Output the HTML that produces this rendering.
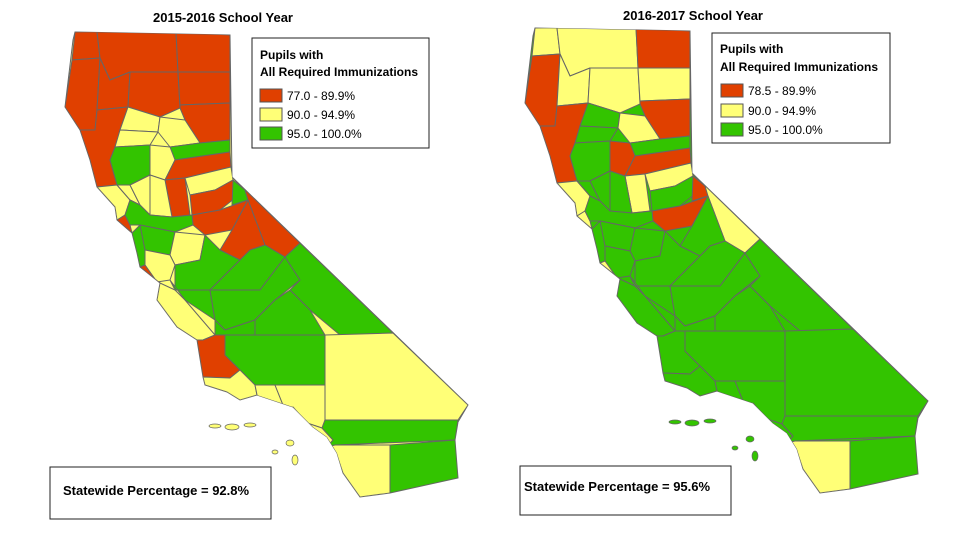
<!DOCTYPE html>
<html><head><meta charset="utf-8"><style>
body{margin:0;background:#fff;font-family:"Liberation Sans",sans-serif}
svg{display:block}
</style></head><body>
<svg id="chart" width="964" height="552" viewBox="0 0 964 552">
<rect width="964" height="552" fill="#fff"/>
<g id="maps"></g>
<text x="223" y="22" text-anchor="middle" font-size="13" font-weight="bold">2015-2016 School Year</text>
<text x="693" y="20" text-anchor="middle" font-size="13" font-weight="bold">2016-2017 School Year</text>
<g>
<rect x="252" y="38" width="177" height="110" fill="#fff" stroke="#222" stroke-width="1"/>
<text x="260" y="59" font-size="12" font-weight="bold">Pupils with</text>
<text x="260" y="76" font-size="12" font-weight="bold">All Required Immunizations</text>
<rect x="260" y="89" width="22" height="13" fill="#e04000" stroke="#555"/><text x="287" y="100" font-size="12">77.0 - 89.9%</text>
<rect x="260" y="108" width="22" height="13" fill="#ffff77" stroke="#555"/><text x="287" y="119" font-size="12">90.0 - 94.9%</text>
<rect x="260" y="127" width="22" height="13" fill="#33c400" stroke="#555"/><text x="287" y="138" font-size="12">95.0 - 100.0%</text>
</g>
<g>
<rect x="712" y="33" width="178" height="110" fill="#fff" stroke="#222" stroke-width="1"/>
<text x="720" y="53" font-size="12" font-weight="bold">Pupils with</text>
<text x="720" y="71" font-size="12" font-weight="bold">All Required Immunizations</text>
<rect x="721" y="84" width="22" height="13" fill="#e04000" stroke="#555"/><text x="748" y="95" font-size="12">78.5 - 89.9%</text>
<rect x="721" y="104" width="22" height="13" fill="#ffff77" stroke="#555"/><text x="748" y="115" font-size="12">90.0 - 94.9%</text>
<rect x="721" y="123" width="22" height="13" fill="#33c400" stroke="#555"/><text x="748" y="134" font-size="12">95.0 - 100.0%</text>
</g>
<g>
<rect x="50" y="467" width="221" height="52" fill="#fff" stroke="#222"/>
<text x="63" y="495" font-size="13" font-weight="bold">Statewide Percentage = 92.8%</text>
</g>
<g>
<rect x="520" y="466" width="211" height="49" fill="#fff" stroke="#222"/>
<text x="524" y="491" font-size="13" font-weight="bold">Statewide Percentage = 95.6%</text>
</g>
</svg>
<script>
const counties=["DelNorte","Siskiyou","Modoc","Humboldt","Trinity","Shasta","LassenN","LassenS","Mendocino","Tehama","Glenn","Plumas","Sierra","Butte","Colusa","NevadaCo","Yuba","Sutter","Placer","ElDorado","Alpine","Mono","Amador","Tuolumne","Sonoma","Napa","Yolo","Marin","Sacramento","SanMateo","Alameda","SanJoaquin","SantaClara","SantaCruz","Stanislaus","Madera","Monterey","SanBenito","Fresno","Inyo","Tulare","Kings","SLO","Kern","SanBernardino","SantaBarbara","Ventura","LosAngeles","Orange","Riverside","SanDiego","Imperial"];
const cat2015=["R","R","R","R","R","R","R","R","R","Y","Y","Y","G","Y","G","R","R","Y","Y","R","G","R","R","R","Y","Y","Y","R","G","G","G","Y","Y","R","G","G","Y","G","G","G","G","G","R","G","Y","Y","Y","Y","Y","G","Y","G"];
const cat2016=["Y","Y","R","R","Y","Y","Y","R","R","G","G","Y","G","R","G","R","Y","G","Y","G","R","Y","R","G","Y","G","G","Y","G","G","G","G","G","Y","G","G","G","G","G","G","G","G","G","G","G","G","G","G","G","G","Y","G"];
const colors={R:"#e04000",Y:"#ffff77",G:"#33c400"};
const shapes=[
[[75,32],[97,32],[100,58],[72,60]],
[[97,32],[176,32],[178,72],[130,72],[110,80],[100,58]],
[[176,32],[230,35],[230,72],[178,72]],
[[72,60],[100,58],[97,110],[95,130],[80,130],[65,107]],
[[100,58],[110,80],[130,72],[128,107],[97,110]],
[[130,72],[178,72],[180,108],[160,117],[128,107]],
[[178,72],[230,72],[230,103],[180,105]],
[[180,105],[230,103],[230,140],[200,143],[185,120],[180,108]],
[[80,130],[95,130],[97,110],[128,107],[120,130],[115,147],[110,160],[117,185],[97,187],[90,160]],
[[128,107],[160,117],[158,132],[120,130]],
[[120,130],[158,132],[150,145],[115,147]],
[[160,117],[185,120],[200,143],[170,147],[158,132]],
[[170,147],[200,143],[230,140],[230,152],[175,160]],
[[150,145],[170,147],[175,160],[165,180],[150,175]],
[[115,147],[150,145],[150,175],[130,185],[117,185],[110,160]],
[[175,160],[230,152],[231,167],[185,178],[165,180]],
[[165,180],[185,178],[190,215],[172,217]],
[[150,175],[165,180],[172,217],[150,215]],
[[185,178],[231,167],[233,180],[215,190],[190,195]],
[[190,195],[215,190],[233,180],[245,190],[220,210],[192,215]],
[[233,180],[245,190],[248,200],[232,205]],
[[233,178],[300,243],[285,257],[265,245],[248,200],[245,190]],
[[192,215],[220,210],[248,200],[232,230],[205,235],[193,225]],
[[232,230],[248,200],[265,245],[250,250],[240,260],[220,250]],
[[97,187],[117,185],[130,200],[125,215],[117,220],[115,207]],
[[117,185],[130,185],[140,205],[130,200]],
[[130,185],[150,175],[150,215],[140,205]],
[[117,220],[125,215],[130,225],[132,233]],
[[140,205],[150,215],[172,217],[192,215],[193,225],[175,232],[140,225],[130,225],[125,215],[130,200]],
[[132,233],[140,225],[145,240],[145,265],[140,267],[137,253]],
[[140,225],[175,232],[170,255],[145,250]],
[[175,232],[205,235],[200,260],[175,265],[170,255]],
[[145,250],[170,255],[175,265],[170,280],[157,282],[145,265]],
[[140,267],[145,265],[157,282],[160,283]],
[[205,235],[220,250],[240,260],[210,290],[175,290],[175,265],[200,260]],
[[240,260],[250,250],[265,245],[285,257],[260,290],[230,300],[210,290]],
[[160,283],[175,290],[185,300],[215,335],[203,340],[197,340],[177,327],[157,300]],
[[170,280],[175,290],[210,290],[215,320],[185,300]],
[[210,290],[260,290],[285,257],[300,280],[275,300],[255,320],[225,330],[215,320]],
[[300,243],[393,333],[340,335],[310,310],[290,290],[300,280],[285,257]],
[[255,320],[275,300],[290,290],[310,310],[325,335],[255,335]],
[[215,320],[225,330],[255,320],[255,335],[225,335],[215,335]],
[[197,340],[203,340],[215,335],[225,335],[225,355],[240,370],[230,378],[203,377]],
[[225,335],[325,335],[325,385],[255,385],[240,370],[225,355]],
[[325,335],[393,333],[468,405],[458,420],[325,420]],
[[203,377],[230,378],[240,370],[255,385],[257,395],[240,400],[227,392],[205,385]],
[[255,385],[275,385],[285,410],[275,417],[257,395]],
[[275,385],[325,385],[325,420],[322,428],[307,423],[293,407],[285,410]],
[[307,423],[322,428],[333,440],[327,447],[313,430]],
[[325,420],[458,420],[455,440],[335,445],[327,447],[333,440],[322,428]],
[[327,447],[335,445],[390,445],[390,493],[360,497],[343,473],[337,455]],
[[390,445],[455,440],[458,478],[390,493]]
];
const outline=[[75,32],[230,35],[232,177],[468,405],[458,422],[455,440],[458,478],[390,493],[360,497],[343,473],[337,453],[327,437],[313,427],[293,407],[257,395],[240,400],[227,392],[205,385],[203,377],[197,340],[177,327],[157,300],[160,283],[140,267],[137,253],[132,233],[117,220],[115,207],[97,187],[90,160],[80,130],[65,107],[73,40]];
const islands=[[215,426,6,2],[232,427,7,3],[250,425,6,2],[290,443,4,3],[295,460,3,5],[275,452,3,2]];
const ns="http://www.w3.org/2000/svg";
const g=document.getElementById("maps");
function pts(p,dx,dy){return p.map(q=>(q[0]+dx)+","+(q[1]+dy)).join(" ");}
function drawMap(cats,dx,dy,base,name){
  const mg=document.createElementNS(ns,"g");
  
  
  const o=document.createElementNS(ns,"polygon");
  o.setAttribute("points",pts(outline,dx,dy));
  o.setAttribute("fill",colors[base]);
  o.setAttribute("stroke","#666");
  o.setAttribute("stroke-width","1");
  
  
  mg.appendChild(o);
  const cp=document.createElementNS(ns,"clipPath");
  cp.setAttribute("id","clip"+name);
  const cpp=document.createElementNS(ns,"polygon");
  cpp.setAttribute("points",pts(outline,dx,dy));
  cp.appendChild(cpp);mg.appendChild(cp);
  const cg=document.createElementNS(ns,"g");
  cg.setAttribute("clip-path","url(#clip"+name+")");
  counties.forEach((c,i)=>{
    const p=document.createElementNS(ns,"polygon");
    p.setAttribute("points",pts(shapes[i],dx,dy));
    p.setAttribute("fill",colors[cats[i]]);
    p.setAttribute("stroke","#666");
    p.setAttribute("stroke-width","1");
    p.setAttribute("stroke-linejoin","round");
    
    
    cg.appendChild(p);
  });
  mg.appendChild(cg);
  islands.forEach(s=>{
    const e=document.createElementNS(ns,"ellipse");
    e.setAttribute("cx",s[0]+dx);e.setAttribute("cy",s[1]+dy);
    e.setAttribute("rx",s[2]);e.setAttribute("ry",s[3]);
    e.setAttribute("fill",colors[base]);e.setAttribute("stroke","#666");e.setAttribute("stroke-width","0.7");
    
    
    mg.appendChild(e);
  });
  g.appendChild(mg);
}
drawMap(cat2015,0,0,"Y","map-2015-2016");
drawMap(cat2016,460,-4,"G","map-2016-2017");
</script>
</body></html>
